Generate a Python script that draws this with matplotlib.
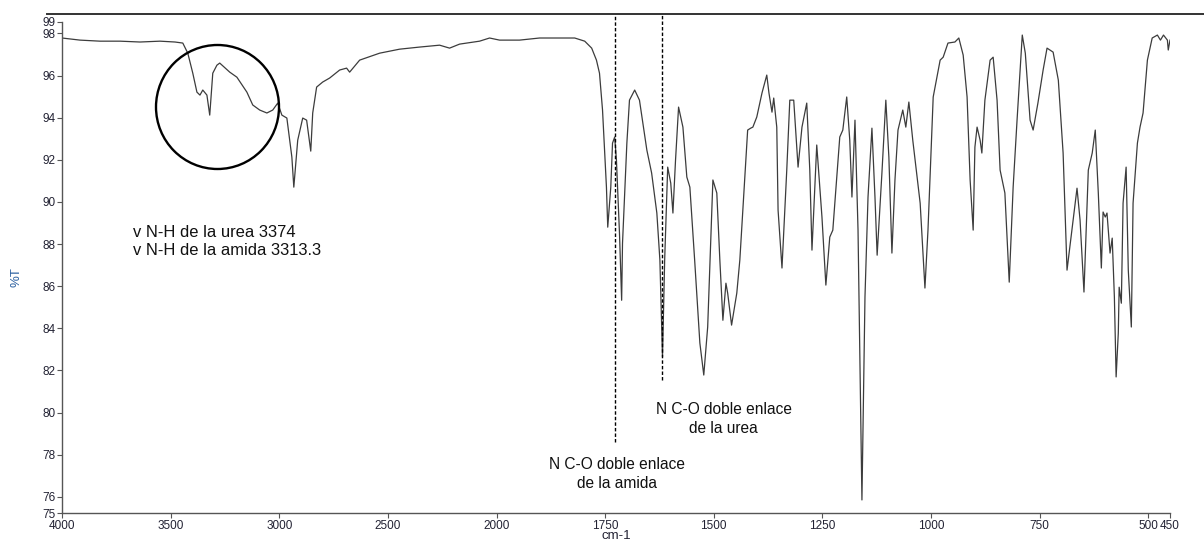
import numpy as np
import matplotlib
matplotlib.use('Agg')
import matplotlib.pyplot as plt
from matplotlib.patches import Ellipse
from matplotlib.lines import Line2D

plt.rcParams['font.family'] = ['Liberation Sans', 'DejaVu Sans']

# IR spectrum, wavenumber (cm-1) and %T
wavenumber = [4000, 3917, 3825, 3733, 3641, 3549, 3480, 3444, 3421, 3398,
              3379, 3365, 3352, 3333, 3320, 3306, 3287, 3274, 3228, 3195,
              3149, 3122, 3090, 3057, 3030, 3007, 2988, 2965, 2942, 2933,
              2915, 2892, 2874, 2855, 2846, 2828, 2800, 2768, 2722, 2690,
              2676, 2630, 2538, 2446, 2354, 2262, 2216, 2170, 2078, 2032,
              1993, 1947, 1901, 1855, 1820, 1797, 1781, 1770, 1763, 1756,
              1747, 1744, 1737, 1733, 1728, 1724, 1717, 1712, 1710, 1700,
              1694, 1682, 1671, 1654, 1643, 1631, 1624, 1618, 1613, 1606,
              1599, 1594, 1588, 1581, 1571, 1562, 1555, 1544, 1532, 1523,
              1514, 1502, 1493, 1486, 1479, 1472, 1468, 1459, 1447, 1440,
              1433, 1422, 1415, 1410, 1401, 1389, 1378, 1373, 1366, 1362,
              1355, 1352, 1343, 1332, 1325, 1316, 1306, 1297, 1286, 1279,
              1274, 1263, 1251, 1242, 1233, 1226, 1210, 1203, 1194, 1187,
              1182, 1175, 1168, 1159, 1152, 1145, 1136, 1129, 1124, 1113,
              1104, 1097, 1090, 1083, 1076, 1065, 1058, 1051, 1042, 1025,
              1014, 1007, 995, 979, 972, 961, 945, 936, 926, 917,
              910, 903, 899, 894, 887, 883, 876, 864, 857, 848,
              841, 830, 820, 811, 802, 790, 783, 772, 765, 754,
              742, 733, 719, 707, 696, 687, 675, 664, 657, 648,
              638, 629, 622, 615, 608, 604, 599, 595, 588, 583,
              578, 574, 569, 567, 562, 558, 551, 546, 539, 535,
              525, 519, 512, 502, 491, 479, 472, 465, 456, 454,
              450]
transmittance = [97.78, 97.68, 97.63, 97.63, 97.59, 97.63, 97.59, 97.54, 97.06, 96.11,
                 95.21, 95.07, 95.31, 95.07, 94.12, 96.11, 96.49, 96.59, 96.16, 95.92,
                 95.21, 94.60, 94.36, 94.22, 94.36, 94.69, 94.12, 93.98, 92.13, 90.70,
                 92.93, 93.98, 93.88, 92.41, 94.22, 95.45, 95.69, 95.88, 96.26, 96.35,
                 96.16, 96.73, 97.06, 97.25, 97.35, 97.44, 97.30, 97.49, 97.63, 97.78,
                 97.68, 97.68, 97.78, 97.78, 97.78, 97.63, 97.30, 96.73, 96.11, 94.36,
                 90.70, 88.80, 90.70, 92.79, 93.08, 91.98, 88.52, 85.33, 88.04, 92.79,
                 94.83, 95.31, 94.83, 92.46, 91.37, 89.47, 87.24, 82.64, 87.24, 91.65,
                 90.89, 89.47, 91.98, 94.50, 93.55, 91.18, 90.70, 87.24, 83.30, 81.78,
                 84.06, 91.04, 90.42, 87.24, 84.38, 86.14, 85.67, 84.15, 85.67, 87.24,
                 89.61, 93.41, 93.50, 93.55, 94.03, 95.17, 96.02, 95.17, 94.26, 94.93,
                 93.55, 89.61, 86.86, 91.51, 94.83, 94.83, 91.65, 93.55, 94.69, 91.51,
                 87.71, 92.70, 89.28, 86.05, 88.33, 88.66, 93.08, 93.41, 94.98, 92.93,
                 90.23, 93.88, 88.66, 75.85, 85.48, 90.23, 93.50, 90.23, 87.47, 91.37,
                 94.83, 92.13, 87.57, 91.04, 93.41, 94.36, 93.55, 94.74, 92.93, 89.94,
                 85.91, 88.66, 94.98, 96.73, 96.87, 97.54, 97.59, 97.78, 96.97, 94.98,
                 91.04, 88.66, 92.60, 93.55, 92.93, 92.32, 94.83, 96.73, 96.87, 94.83,
                 91.51, 90.42, 86.19, 90.70, 93.88, 97.92, 97.06, 93.88, 93.41, 94.69,
                 96.26, 97.30, 97.11, 95.78, 92.32, 86.76, 88.80, 90.65, 89.14, 85.72,
                 91.51, 92.32, 93.41, 90.42, 86.86, 89.52, 89.28, 89.47, 87.57, 88.28,
                 85.48, 81.69, 83.77, 85.95, 85.19, 89.94, 91.65, 86.76, 84.06, 89.94,
                 92.79, 93.55, 94.22, 96.73, 97.78, 97.92, 97.68, 97.92, 97.68, 97.21,
                 97.68]

xticks = [4000, 3500, 3000, 2500, 2000, 1750, 1500, 1250, 1000, 750, 500, 450]
yticks = [76, 78, 80, 82, 84, 86, 88, 90, 92, 94, 96, 98]
y_bottom, y_top = 75.23, 98.54   # axis ends, labelled 75 and 99

# marked bands
co_amide = 1728
co_urea = 1620


# spectrometer axis: scale doubles below 2000 cm-1
def fwd(x):
    x = np.asarray(x, dtype=float)
    return np.where(x >= 2000, x, 2 * x - 2000)


def inv(x):
    x = np.asarray(x, dtype=float)
    return np.where(x >= 2000, x, (x + 2000) / 2)


fig = plt.figure(figsize=(12.04, 5.39), dpi=100)
ax = fig.add_axes([62 / 1204, 1 - 513 / 539, 1108 / 1204, 491 / 539])
ax.set_xscale('function', functions=(fwd, inv))

ax.plot(wavenumber, transmittance, color='#3c3c3c', lw=0.9)

ax.set_xlim(4000, 450)
ax.set_ylim(y_bottom, y_top)
ax.set_xticks(xticks)
ax.set_xticklabels([str(t) for t in xticks])
ax.set_yticks([y_bottom] + yticks + [y_top])
ax.set_yticklabels(['75'] + [str(t) for t in yticks] + ['99'])
ax.minorticks_off()

for s in ['top', 'right']:
    ax.spines[s].set_visible(False)
for s in ['left', 'bottom']:
    ax.spines[s].set_color('#555555')
    ax.spines[s].set_linewidth(1.0)
ax.tick_params(axis='both', length=3.5, width=0.8, color='#555555',
               labelsize=8.5, labelcolor='#222233')
ax.tick_params(axis='y', pad=1)
ax.tick_params(axis='x', pad=1.5)

ax.set_xlabel('cm-1', fontsize=9.5, color='#222233', va='top')
ax.xaxis.set_label_coords(0.5, -0.034)
ax.set_ylabel('%T', fontsize=9.5, color='#2a5fa0')
ax.yaxis.set_label_coords(-0.036, 0.48)

# dashed markers for the C=O bands
ax.plot([co_amide, co_amide], [78.6, 98.92], ls=(0, (2.5, 1.5)), color='black', lw=1, clip_on=False)
ax.plot([co_urea, co_urea], [81.54, 98.92], ls=(0, (2.5, 1.5)), color='black', lw=1, clip_on=False)

# annotations (y = baseline of the last line)
ax.text(3674, 87.47, 'v N-H de la urea 3374\nv N-H de la amida 3313.3',
        fontsize=11.9, va='baseline', ha='left', linespacing=1.3, color='#111111')
ax.text(1477, 79.02, 'N C-O doble enlace\nde la urea', fontsize=11.2,
        va='baseline', ha='center', multialignment='center', linespacing=1.35,
        color='#111111')
ax.text(1722, 76.41, 'N C-O doble enlace\nde la amida', fontsize=11.2,
        va='baseline', ha='center', multialignment='center', linespacing=1.35,
        color='#111111')

# circle round the N-H bands
fig.patches.append(Ellipse((217.5 / 1204, 1 - 107 / 539), 123 / 1204, 124 / 539,
                           transform=fig.transFigure, fill=False,
                           edgecolor='black', lw=1.7))

# frame line across the top
fig.lines.append(Line2D([47 / 1204, 1.0], [1 - 14 / 539, 1 - 14 / 539],
                        transform=fig.transFigure, color='#333333', lw=1.4))

fig.savefig('out.png', dpi=100)
